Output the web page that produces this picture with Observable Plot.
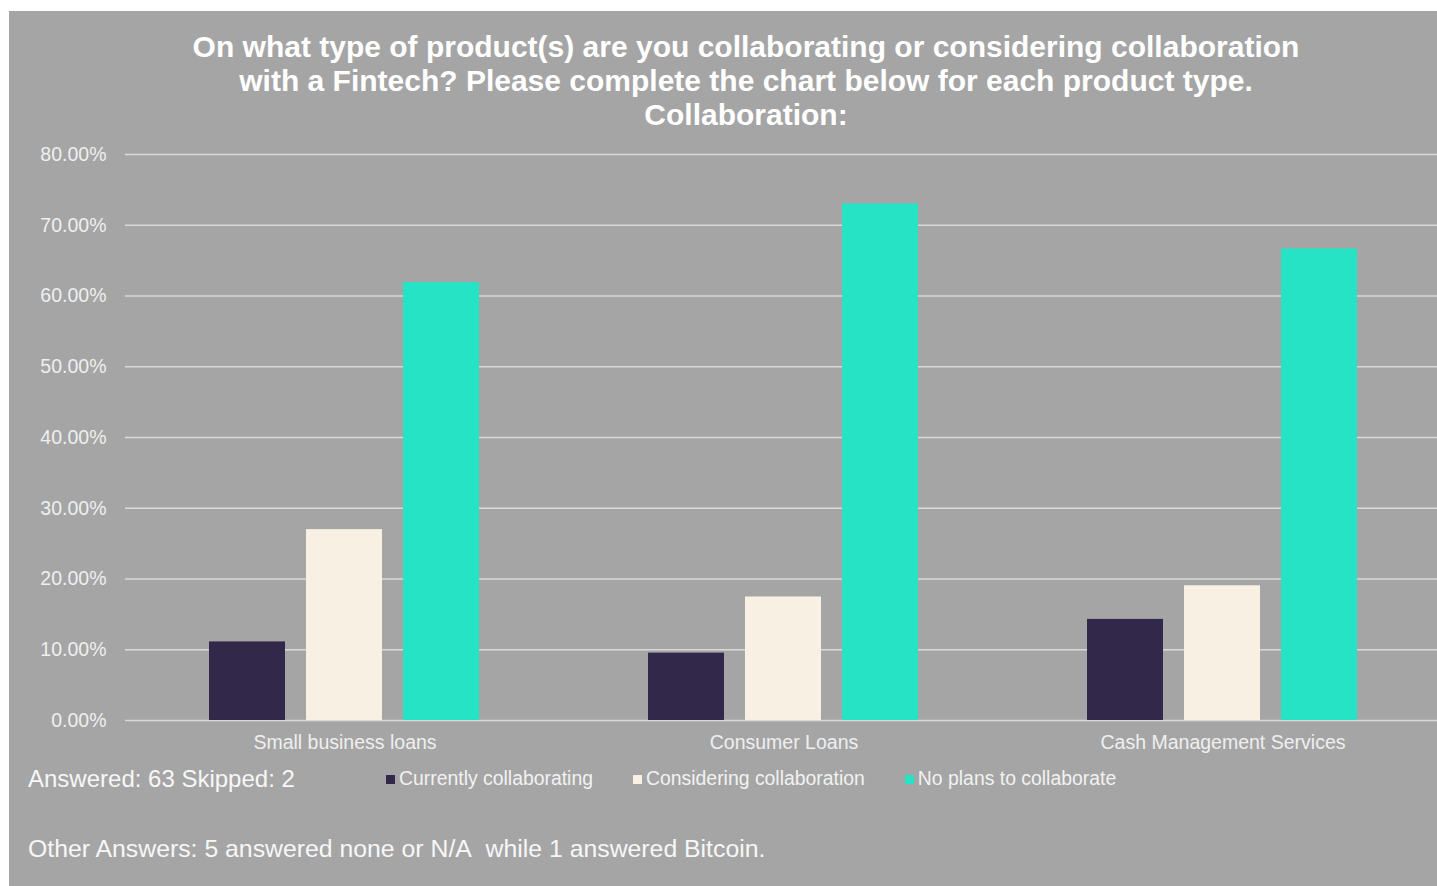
<!DOCTYPE html>
<html>
<head>
<meta charset="utf-8">
<script src="https://cdn.jsdelivr.net/npm/d3@7"></script>
<script src="https://cdn.jsdelivr.net/npm/@observablehq/plot@0.6"></script>
<style>
  html, body { margin: 0; padding: 0; background: #ffffff; overflow: hidden; width: 1437px; height: 886px; }
  #bg { position: absolute; left: 9px; top: 11px; width: 1428px; height: 875px; background: #a5a5a5; }
  #title { position: absolute; left: 46px; top: 30px; width: 1400px; text-align: center;
    font-family: "Liberation Sans", Arial, sans-serif; font-weight: bold; font-size: 30px; line-height: 34px; color: #ffffff; }
  #chart { position: absolute; left: 0px; top: 140px; width: 1443px; }
  #chart svg { max-width: none !important; }
  #answered { position: absolute; left: 28px; top: 765px; font-family: "Liberation Sans", Arial, sans-serif; font-size: 24px; color: #f7f7f7; white-space: nowrap; }
  #legend { position: absolute; left: 386px; top: 767px; display: flex; gap: 40px; font-family: "Liberation Sans", Arial, sans-serif; font-size: 19.4px; color: #f2f2f2; white-space: nowrap; }
  #legend .item { display: flex; align-items: center; }
  #legend .sw { width: 9px; height: 9px; margin-right: 4px; margin-top: 2px; }
  #other { position: absolute; left: 28px; top: 835px; font-family: "Liberation Sans", Arial, sans-serif; font-size: 24.8px; color: #f7f7f7; white-space: nowrap; }
</style>
</head>
<body>
<div id="bg"></div>
<div id="title">On what type of product(s) are you collaborating or considering collaboration<br>with a Fintech? Please complete the chart below for each product type.<br>Collaboration:</div>
<div id="chart"></div>
<div id="answered">Answered: 63 Skipped: 2</div>
<div id="legend"></div>
<div id="other">Other Answers: 5 answered none or N/A&nbsp; while 1 answered Bitcoin.</div>
<script>
const categories = ["Small business loans", "Consumer Loans", "Cash Management Services"];
const series = ["Currently collaborating", "Considering collaboration", "No plans to collaborate"];
const currentlyCollaborating = [0.1111, 0.0952, 0.1429];
const consideringCollaboration = [0.2698, 0.1746, 0.1905];
const noPlansToCollaborate = [0.6190, 0.7302, 0.6667];
const seriesColors = ["#31284a", "#f7f0e3", "#27e3c6"];
const yTicks = [0, 0.1, 0.2, 0.3, 0.4, 0.5, 0.6, 0.7, 0.8];

const valuesBySeries = [currentlyCollaborating, consideringCollaboration, noPlansToCollaborate];
const data = [];
categories.forEach((c, i) => {
  series.forEach((s, j) => data.push({category: c, series: s, value: valuesBySeries[j][i]}));
});

const chart = Plot.plot({
  width: 1443,
  height: 620,
  marginLeft: 124,
  marginRight: 0,
  marginTop: 14,
  marginBottom: 40,
  style: {background: "transparent", color: "#efefef", fontFamily: "'Liberation Sans', Arial, sans-serif", fontSize: "19.5px", maxWidth: "none"},
  fx: {domain: categories, axis: "bottom", label: null, tickSize: 0, tickPadding: 15, padding: 0},
  x: {domain: series, axis: null, paddingInner: 0.215, paddingOuter: 0.8626},
  y: {domain: [0, 0.8], label: null, ticks: yTicks, tickFormat: d3.format(".2%"), tickSize: 0, tickPadding: 19},
  color: {domain: series, range: seriesColors},
  marks: [
    Plot.ruleY(yTicks, {y: d => d, stroke: "#d9d9d9", strokeWidth: 1.5}),
    Plot.barY(data, {fx: "category", x: "series", y: "value", fill: "series"})
  ]
});
document.getElementById("chart").appendChild(chart);

const legend = document.getElementById("legend");
series.forEach((s, j) => {
  const item = document.createElement("div");
  item.className = "item";
  const sw = document.createElement("span");
  sw.className = "sw";
  sw.style.background = seriesColors[j];
  const label = document.createElement("span");
  label.textContent = s;
  item.appendChild(sw);
  item.appendChild(label);
  legend.appendChild(item);
});
</script>
</body>
</html>
